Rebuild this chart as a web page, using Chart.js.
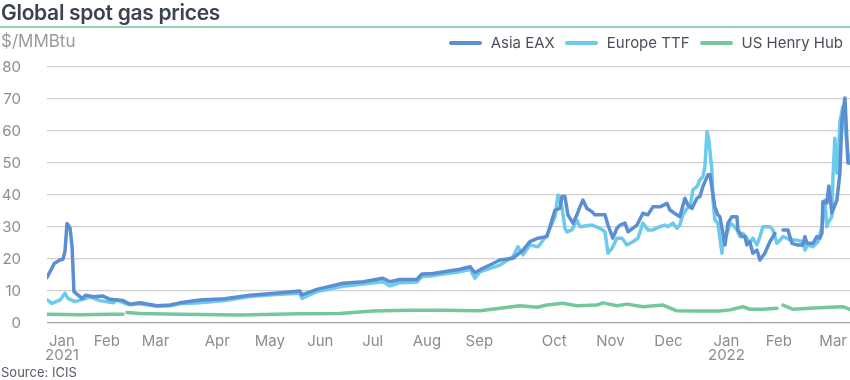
<!DOCTYPE html>
<html lang="en">
<head>
    <meta charset="UTF-8">
    <title>Global spot gas prices</title>
    <style>
        body {
            margin: 0;
            background: #ffffff;
            font-family: 'Inter', 'Noto Sans', sans-serif;
        }
        .wrap {
            position: relative;
            width: 850px;
            height: 380px;
            overflow: hidden;
        }
        .title {
            position: absolute;
            left: 1px;
            top: 0px;
            font-size: 21px;
            font-weight: 600;
            color: #3c4350;
            letter-spacing: -0.3px;
        }
        .rule {
            position: absolute;
            left: 0;
            top: 26px;
            width: 850px;
            height: 2px;
            background: #93d4b8;
        }
        .unit {
            position: absolute;
            left: 1px;
            top: 31px;
            font-size: 17px;
            color: #9a9a9a;
        }
        .legend {
            position: absolute;
            right: 7px;
            top: 33px;
            display: flex;
            align-items: center;
            font-size: 15px;
            color: #4a4f5a;
        }
        .legend span.sw {
            display: inline-block;
            width: 33px;
            height: 4px;
            border-radius: 2px;
            margin-right: 9px;
        }
        .legend .item {
            display: flex;
            align-items: center;
            margin-left: 10px;
        }
        .source {
            position: absolute;
            left: 1px;
            top: 364px;
            font-size: 13px;
            color: #555b66;
        }
        canvas {
            position: absolute;
            left: 0;
            top: 0;
        }
    </style>
</head>
<body>
<div class="wrap">
    <canvas id="gasChart" width="850" height="380"></canvas>
    <div class="title">Global spot gas prices</div>
    <div class="rule"></div>
    <div class="unit">$/MMBtu</div>
    <div class="legend">
        <div class="item"><span class="sw" style="background:#5b8fd1"></span>Asia EAX</div>
        <div class="item"><span class="sw" style="background:#6ccaec"></span>Europe TTF</div>
        <div class="item"><span class="sw" style="background:#74c79c"></span>US Henry Hub</div>
    </div>
    <div class="source">Source: ICIS</div>
</div>

<script src="https://cdn.jsdelivr.net/npm/chart.js"></script>
<script>
    // days counted from 1 Jan 2021 (day 0)
    const asiaDays = [3, 7, 10, 11.5, 12.6, 13.7, 15.3, 16.4, 17.4, 19.6, 21.7, 23.8, 27.6, 32.9, 36.7, 43.6,
        47.3, 52.7, 61.8, 68.7, 74, 84.7, 98, 111.4, 125, 138.1, 139.2, 147.2, 161.1, 172, 182.5, 186.2, 191.6,
        200.6, 203.3, 209.2, 223.6, 229, 231.6, 235.9, 241.3, 245, 251.9, 257.3, 261, 265.3, 270.1, 272.8,
        274.4, 277, 278.1, 279.7, 281.3, 284, 286.1, 287.7, 289.3, 291.5, 294.1, 295.7, 301.1, 302.7, 305.3,
        307.5, 309.1, 311.8, 313.4, 318.2, 321.4, 324, 326.7, 330.5, 334.2, 335.8, 339.5, 341.1, 343.8, 345.4,
        347.6, 350.2, 351.8, 353.4, 356.1, 357.2, 359.8, 361.4, 362.5, 364.1, 365.2, 366.8, 368.9, 371.6, 372.1,
        374.3, 375.9, 376.9, 378.5, 380.1, 382.3, 383.9, 386.5, 389.2, 391.9, 393.5, 396.2, 398.8, 401, 403.6,
        406.8, 407.9, 409, 412.2, 414.3, 415.9, 417, 417.5, 419.6, 420.7, 422.3, 425, 426.6, 427.7, 429.3,
        430.9, 432];
    const asiaPrices = [14.2, 18.7, 19.7, 19.9, 22.3, 31.1, 29.7, 23.8, 9.8, 8.7, 7.7, 8.7, 8.2, 8.4, 7.4, 7.0,
        5.9, 6.3, 5.4, 5.6, 6.3, 7.2, 7.6, 8.7, 9.3, 10.0, 8.8, 10.5, 12.4, 12.9, 14.0, 12.9, 13.6,
        13.6, 15.3, 15.5, 16.8, 17.6, 15.7, 17.1, 18.6, 19.7, 20.2, 22.8, 25.4, 26.5, 27.0, 32.2,
        35.3, 35.8, 39.5, 39.5, 33.8, 31.2, 33.8, 36.3, 38.4, 35.8, 34.8, 33.8, 33.8, 30.6, 26.5,
        29.6, 30.6, 31.2, 28.5, 30.6, 34.3, 33.8, 36.3, 36.3, 37.4, 35.3, 33.8, 33.2, 39.0, 36.9,
        35.8, 39.0, 39.5, 42.6, 46.3, 46.3, 36.3, 33.8, 33.2, 28.0, 24.4, 31.2, 33.2, 33.2, 29.1,
        27.0, 27.0, 24.4, 25.4, 21.8, 22.8, 19.7, 21.8, 25.4, 28.0, null, 29.1, 29.1, 24.9, 24.4,
        24.4, 27.0, 24.9, 24.9, 27.0, 26.5, 28.0, 37.9, 37.5, 42.8, 34.4, 38.4, 46.8, 63.4, 70.3,
        50.0, 50.0];

    const ttfDays = [3, 5.7, 10, 12.6, 14.2, 18, 22.2, 26, 31.3, 38.3, 40.4, 44.7, 47.3, 52.7, 61.8, 68.7, 74,
        84.7, 98, 111.4, 125, 138.1, 139.2, 147.2, 161.1, 172, 182.5, 186.2, 191.6, 200.6, 203.3, 209.2, 223.6,
        229, 231.6, 234.3, 245, 251.9, 254.6, 257.3, 261, 265.3, 270.1, 274.4, 276, 278.1, 279.7, 280.8, 283.4,
        286.1, 287.7, 294.1, 298.4, 301.1, 302.7, 304.8, 307.5, 310.2, 312.8, 316, 318.7, 321.4, 324, 326.7,
        330.5, 333.1, 334.7, 337.4, 339.5, 341.1, 342.7, 344.9, 346.5, 348.1, 350.2, 351.8, 353.4, 354.5,
        355.6, 356.6, 358.2, 358.8, 359.8, 361.4, 363.6, 364.1, 366.3, 367.9, 369.5, 371.6, 373.2, 374.8,
        376.9, 378.5, 380.1, 382.3, 383.9, 385.5, 387.6, 389.2, 390.8, 393, 394.6, 396.2, 398.3, 399.9, 403.6,
        406.8, 407.9, 409.5, 412.2, 414.9, 417, 418.6, 419.6, 420.2, 422.3, 422.9, 423.9, 425, 425.5, 426.6,
        428.2, 430.3, 431.4, 432];
    const ttfPrices = [7.2, 6.1, 7.2, 9.3, 7.7, 6.7, 7.4, 8.2, 7.0, 6.3, 7.2, 6.1, 5.7, 6.0, 5.2, 5.4, 6.0,
        6.3, 7.0, 8.3, 8.9, 9.3, 7.7, 9.8, 11.5, 12.2, 12.9, 11.6, 12.6, 12.8, 14.5, 14.8, 16.0,
        16.8, 14.0, 16.0, 18.1, 20.7, 23.8, 21.3, 24.4, 23.8, 27.5, 33.2, 40.0, 36.3, 29.6, 28.5, 29.1,
        32.2, 30.1, 30.6, 29.6, 28.5, 21.8, 23.3, 26.5, 26.5, 24.4, 25.4, 26.5, 31.2, 29.1, 29.1,
        30.1, 30.6, 30.1, 31.2, 29.6, 30.6, 33.8, 35.8, 36.3, 41.6, 42.6, 44.7, 45.7, 48.9,
        59.8, 57.2, 47.8, 38.4, 32.2, 31.2, 21.8, 25.9, 28.0, 31.2, 30.6, 29.1, 27.0, 28.0,
        26.5, 24.9, 26.5, 24.4, 27.0, 30.1, 30.1, 30.1, 29.1, 24.9, 25.9, 27.0, 26.5, 25.9, 25.9,
        25.4, 22.8, 24.4, 23.8, 25.4, 30.1, 38.4, 30.1, 31.2, 33.2, 45.7, 57.7, 46.8, 47.3, 62.9,
        67.6, 56.2, 50.4, 50.0];

    const hhDays = [3, 20.6, 36.7, 43.6, 45, 45.7, 52.7, 74, 106.1, 138.1, 159.5, 177.1, 196.9, 212.9, 234.3,
        245, 255.7, 264.8, 270.1, 278.6, 286.1, 296.8, 300, 307.5, 312.8, 321.4, 332.1, 339.5, 350.2, 362.5,
        367.9, 374.8, 378.5, 385.5, 393, 394.5, 396.2, 401.5, 410.6, 421.2, 428.2, 432];
    const hhPrices = [2.7, 2.6, 2.7, 2.7, null, 3.3, 3.0, 2.7, 2.5, 2.9, 3.0, 3.75, 4.0, 4.0, 3.8,
        4.6, 5.4, 4.9, 5.6, 6.2, 5.4, 5.6, 6.3, 5.4, 5.9, 5.1, 5.6, 3.8, 3.75, 3.75,
        4.1, 5.1, 4.3, 4.3, 4.6, null, 5.6, 4.3, 4.6, 4.9, 5.1, 4.3];

    // month labels, placed where they sit under the axis
    const monthTicks = [11, 35, 61, 94, 122, 149, 177, 206, 234, 274, 304, 335, 366, 394, 423];
    const monthLabels = [['Jan', '2021'], 'Feb', 'Mar', 'Apr', 'May', 'Jun', 'Jul', 'Aug', 'Sep', 'Oct', 'Nov', 'Dec',
        ['Jan', '2022'], 'Feb', 'Mar'];
    const yTicks = [0, 10, 20, 30, 40, 50, 60, 70, 80];

    function toPoints(days, values) {
        return days.map(function (d, i) { return { x: d, y: values[i] }; });
    }

    const lineOpts = { borderWidth: 3.5, pointRadius: 0, tension: 0, spanGaps: false, borderCapStyle: 'round', borderJoinStyle: 'round' };

    const ctx = document.getElementById('gasChart').getContext('2d');
    const gasChart = new Chart(ctx, {
        type: 'line',
        data: {
            datasets: [
                Object.assign({ label: 'Asia EAX', data: toPoints(asiaDays, asiaPrices), borderColor: '#5b8fd1' }, lineOpts),
                Object.assign({ label: 'Europe TTF', data: toPoints(ttfDays, ttfPrices), borderColor: '#6ccaec' }, lineOpts),
                Object.assign({ label: 'US Henry Hub', data: toPoints(hhDays, hhPrices), borderColor: '#74c79c' }, lineOpts)
            ]
        },
        options: {
            responsive: false,
            animation: false,
            layout: { padding: { top: 67, left: 0, right: 0, bottom: 0 } },
            plugins: {
                legend: { display: false },
                tooltip: { enabled: false }
            },
            scales: {
                x: {
                    type: 'linear',
                    min: 3,
                    max: 432,
                    grid: { display: false, drawTicks: false },
                    border: { display: false },
                    afterBuildTicks: function (scale) {
                        scale.ticks = monthTicks.map(function (v) { return { value: v }; });
                    },
                    afterFit: function (scale) {
                        scale.height = 57;
                        scale.paddingLeft = 0;
                        scale.paddingRight = 0;
                    },
                    ticks: {
                        autoSkip: false,
                        maxRotation: 0,
                        padding: 12,
                        color: '#8c8c8c',
                        font: { family: 'Inter', size: 15, lineHeight: 0.9 },
                        callback: function (value) {
                            const i = monthTicks.indexOf(value);
                            return i >= 0 ? monthLabels[i] : '';
                        }
                    }
                },
                y: {
                    min: 0,
                    max: 80,
                    afterBuildTicks: function (scale) {
                        scale.ticks = yTicks.map(function (v) { return { value: v }; });
                    },
                    afterFit: function (scale) {
                        scale.width = 47;
                        scale.paddingTop = 0;
                        scale.paddingBottom = 0;
                    },
                    border: { display: false },
                    grid: {
                        drawTicks: false,
                        lineWidth: 1.3,
                        color: function (c) { return c.tick && c.tick.value === 0 ? '#a3a3a3' : '#cfcfcf'; }
                    },
                    ticks: {
                        padding: 26,
                        color: '#8c8c8c',
                        font: { family: 'Inter', size: 15 }
                    }
                }
            }
        }
    });
</script>
</body>
</html>
